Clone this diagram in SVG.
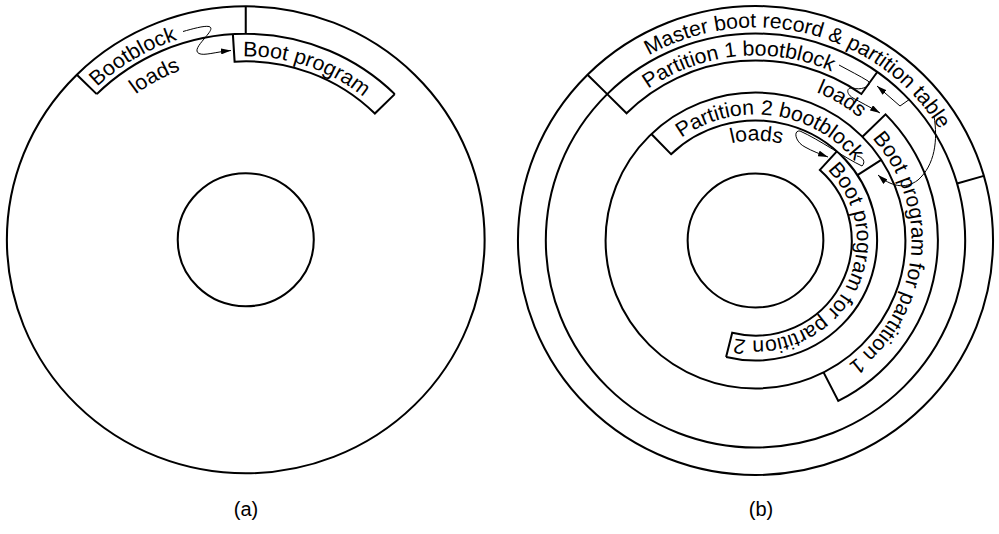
<svg xmlns="http://www.w3.org/2000/svg" xmlns:xlink="http://www.w3.org/1999/xlink" width="999" height="534" viewBox="0 0 999 534">
<style>
.ln{fill:none;stroke:#000;stroke-width:2}
.cn{fill:none;stroke:#000;stroke-width:1}
.t{font-family:"Liberation Sans",Arial,Helvetica,sans-serif;font-size:21px;fill:#000}
.cap{font-family:"Liberation Sans",Arial,Helvetica,sans-serif;font-size:20px;fill:#000;text-anchor:middle}
</style>
<defs>
<marker id="ah" markerUnits="userSpaceOnUse" markerWidth="10" markerHeight="6" viewBox="0 0 10 6" refX="10" refY="3" orient="auto">
<path d="M0,0 L10,3 L0,6 z" fill="#000"/>
</marker>
<path id="pa-bb" d="M -189.64,92.50 A 211 211 0 0 1 170.70,-124.02"/>
<path id="pa-ld" d="M -165.99,72.17 A 181 181 0 0 1 150.93,-99.90"/>
<path id="pa-bp" d="M -167.64,-74.64 A 183.5 183.5 0 0 1 178.05,44.39"/>
<path id="pb-mbr" d="M -200.78,-71.10 A 213 213 0 0 1 210.08,35.16"/>
<path id="pb-p1bb" d="M -184.99,1.61 A 185 185 0 0 1 181.90,-33.71"/>
<path id="pb-p1ld" d="M -129.44,-94.05 A 160 160 0 0 1 143.81,70.14"/>
<path id="pb-p1bp" d="M 29.38,-151.17 A 154 154 0 0 1 -2.69,153.98"/>
<path id="pb-p2bb" d="M -122.92,-27.70 A 126 126 0 0 1 125.86,5.94"/>
<path id="pb-p2ld" d="M -99.52,-9.76 A 100 100 0 0 1 99.71,-7.67"/>
<path id="pb-p2bp" d="M 55.19,-83.39 A 100 100 0 0 1 -39.88,91.71"/>
</defs>
<rect width="999" height="534" fill="#fff"/>

<g id="fig-a" transform="translate(245.75,239.8) scale(1.023,1)">
  <g id="disk-a"><circle class="ln" cx="0" cy="0" r="233.5"/></g>
  <g id="hub-a"><circle class="ln" cx="0" cy="0" r="66.5"/></g>
  <g id="bootblock-a">
    <path class="ln" d="M -145.66,-145.66 L -165.11,-165.11 M 0,-206 L 0,-233.5 M -145.66,-145.66 A 206 206 0 0 1 145.66,-145.66"/>
    <text class="t"><textPath xlink:href="#pa-bb" href="#pa-bb" startOffset="50%" text-anchor="middle">Bootblock</textPath></text>
  </g>
  <g id="bootprogram-a">
    <path class="ln" d="M -12.58,-205.62 L -10.90,-178.17 A 178.5 178.5 0 0 1 126.22,-126.22 L 145.66,-145.66"/>
    <text class="t"><textPath xlink:href="#pa-bp" href="#pa-bp" startOffset="50%" text-anchor="middle">Boot program</textPath></text>
  </g>
  <g id="loads-a">
    <text class="t"><textPath xlink:href="#pa-ld" href="#pa-ld" startOffset="50%" text-anchor="middle">loads</textPath></text>
  </g>
</g>

<g id="fig-b" transform="translate(755.5,240.5) scale(1.013,1)">
  <g id="disk-b"><circle class="ln" cx="0" cy="0" r="234.5"/><circle class="ln" cx="0" cy="0" r="207"/></g>
  <g id="partition2-b"><circle class="ln" cx="0" cy="0" r="148"/></g>
  <g id="hub-b"><circle class="ln" cx="0" cy="0" r="67"/></g>
  <g id="mbr-b">
    <path class="ln" d="M -165.82,-165.82 L -146.37,-146.37 M 198.98,-57.06 L 225.42,-64.64"/>
    <text class="t"><textPath xlink:href="#pb-mbr" href="#pb-mbr" startOffset="50%" text-anchor="middle">Master boot record &amp; partition table</textPath></text>
  </g>
  <g id="p1-bootblock-b">
    <path class="ln" d="M -146.37,-146.37 L -127.28,-127.28 A 180 180 0 0 1 104.53,-146.54 L 120.21,-168.52"/>
    <text class="t"><textPath xlink:href="#pb-p1bb" href="#pb-p1bb" startOffset="50%" text-anchor="middle">Partition 1 bootblock</textPath></text>
  </g>
  <g id="p1-bootprogram-b">
    <path class="ln" d="M 105.56,-103.73 L 128.39,-126.16 A 180 180 0 0 1 81.72,160.38 L 67.19,131.87"/>
    <text class="t"><textPath xlink:href="#pb-p1bp" href="#pb-p1bp" startOffset="50%" text-anchor="middle">Boot program for partition 1</textPath></text>
  </g>
  <g id="p2-bootblock-b">
    <path class="ln" d="M -102.81,-106.46 L -83.36,-86.32 A 120 120 0 1 1 -29.03,116.44 M 124.12,-80.61 L 100.64,-65.36"/>
    <text class="t"><textPath xlink:href="#pb-p2bb" href="#pb-p2bb" startOffset="50%" text-anchor="middle">Partition 2 bootblock</textPath></text>
  </g>
  <g id="p2-bootprogram-b">
    <path class="ln" d="M 80.30,-89.18 L 63.57,-70.60 A 95 95 0 0 1 -22.98,92.18 L -29.03,116.44"/>
    <text class="t"><textPath xlink:href="#pb-p2bp" href="#pb-p2bp" startOffset="50%" text-anchor="middle">Boot program for partition 2</textPath></text>
  </g>
  <g id="loads-b">
    <text class="t"><textPath xlink:href="#pb-p1ld" href="#pb-p1ld" startOffset="50%" text-anchor="middle">loads</textPath></text>
    <text class="t"><textPath xlink:href="#pb-p2ld" href="#pb-p2ld" startOffset="50%" text-anchor="middle">loads</textPath></text>
  </g>
</g>

<g id="connectors">
  <path class="cn" marker-end="url(#ah)" d="M183,31.5 C192,29 204,25.5 209,26.5 C214,28 208,34 204,39 C199,45 194,51 199,53.5 C204,56 215,52 231,50.5"/>
  <path class="cn" marker-end="url(#ah)" d="M839,65 C850,71 860,76 868,81 C873,85 862,91 853,88 C846,87 846,94 853,98 C860,102 870,107 880,113"/>
  <path class="cn" marker-end="url(#ah)" d="M910,99 L900,106 L877,86"/>
  <path class="cn" marker-end="url(#ah)" d="M934,116 C938,140 935,165 918,180 C905,190 890,186 878,175"/>
  <path class="cn" marker-end="url(#ah)" d="M857,156 C863,157 866,162 862,166 C845,158 820,140 800,131 C793,130 795,142 805,147 C812,151 820,154 828,157"/>
</g>

<g id="captions">
  <text class="cap" x="246" y="516">(a)</text>
  <text class="cap" x="761" y="516">(b)</text>
</g>
</svg>
